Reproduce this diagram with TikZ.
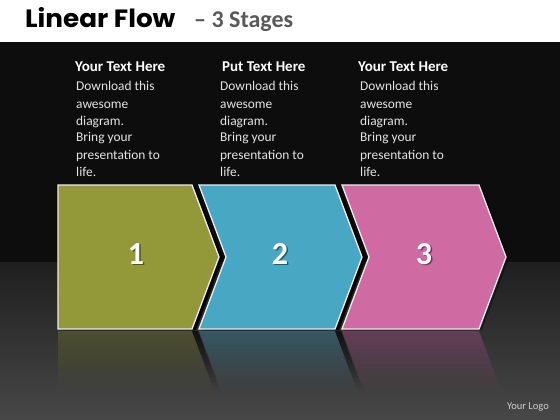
\documentclass[tikz,border=0pt]{standalone}
\usepackage{fontspec}
\setmainfont{Carlito}
\newfontfamily\titlefont{Poppins}[FakeStretch=1.05]
\usetikzlibrary{fadings}
\definecolor{stageA}{RGB}{147,153,56}
\definecolor{stageB}{RGB}{72,168,196}
\definecolor{stageC}{RGB}{207,106,162}
\definecolor{reflA}{RGB}{90,95,45}
\definecolor{reflB}{RGB}{60,110,130}
\definecolor{reflC}{RGB}{130,70,110}
\definecolor{bodytext}{RGB}{228,228,228}
\definecolor{subtitle}{RGB}{89,89,89}
\tikzfading[name=reffade, top color=transparent!35, bottom color=transparent!100]
\tikzset{
  stagebox/.style={draw=white!92!black, line width=1.3pt, line join=miter},
  shadowbox/.style={fill=black, opacity=0.9},
  reflbox/.style={path fading=reffade},
  headtext/.style={anchor=base west, inner sep=0pt, text=white, font=\bfseries\fontsize{15}{17}\selectfont},
  bodyline/.style={anchor=base west, inner sep=0pt, text=bodytext, font=\fontsize{13.4}{17}\selectfont},
  numtext/.style={inner sep=0pt, text=white, font=\bfseries\fontsize{32}{34}\selectfont},
  numshadow/.style={inner sep=0pt, text=black, opacity=0.45, font=\bfseries\fontsize{32}{34}\selectfont}
}
\begin{document}
\begin{tikzpicture}[x=1pt,y=-1pt]
\useasboundingbox (0,0) rectangle (560,420);
% background
\fill[white] (0,0) rectangle (560,42);
\fill[black!95] (0,42) rectangle (560,262);
\shade[top color=black!88, bottom color=black!72] (0,262) rectangle (560,420);
% reflections
\fill[reflA, reflbox] (58,331) -- (192,331) -- (214,390) -- (58,390) -- cycle;
\fill[reflB, reflbox] (199,331) -- (335,331) -- (357,390) -- (221,390) -- cycle;
\fill[reflC, reflbox] (342,331) -- (479,331) -- (501,390) -- (364,390) -- cycle;
\fill[black, reflbox] (192,331) -- (198,331) -- (220,390) -- (214,390) -- cycle;
\fill[black, reflbox] (335,331) -- (341,331) -- (363,390) -- (357,390) -- cycle;
% shadows
\fill[shadowbox] (61,186) -- (196,186) -- (223,258) -- (196,330) -- (61,330) -- cycle;
\fill[shadowbox] (202,186) -- (339,186) -- (366,258) -- (339,330) -- (202,330) -- (229,258) -- cycle;
\fill[shadowbox, opacity=0.35] (345,186) -- (482,186) -- (509,258) -- (482,330) -- (345,330) -- (372,258) -- cycle;
% stages
\filldraw[stagebox, fill=stageA] (58,185) -- (192,185) -- (219,257) -- (192,329) -- (58,329) -- cycle;
\filldraw[stagebox, fill=stageB] (199,185) -- (335,185) -- (362,257) -- (335,329) -- (199,329) -- (226,257) -- cycle;
\filldraw[stagebox, fill=stageC] (342,185) -- (479,185) -- (506,257) -- (479,329) -- (342,329) -- (369,257) -- cycle;
% numbers
\node[numshadow] (n1s) at (137.5,255.5) {1};
\node[numtext] (n1) at (136,254) {1};
\node[numshadow] (n2s) at (281.5,255.5) {2};
\node[numtext] (n2) at (280,254) {2};
\node[numshadow] (n3s) at (425.5,255.5) {3};
\node[numtext] (n3) at (424,254) {3};
% title
\node[anchor=base west, inner sep=0pt, font=\titlefont\bfseries\fontsize{25}{30}\selectfont] (title) at (25,27.5) {Linear Flow};
\node[anchor=base west, inner sep=0pt, text=subtitle, font=\bfseries\fontsize{24}{30}\selectfont] (subtitle) at (194,27.5) {– 3 Stages};
% headings
\node[headtext] (h1) at (75,72) {Your Text Here};
\node[headtext] (h2) at (222,72) {Put Text Here};
\node[headtext] (h3) at (358,72) {Your Text Here};
% body text
\foreach \c/\x in {1/76, 2/220, 3/360}{
  \foreach \t [count=\i] in {Download this, awesome, diagram., Bring your, presentation to, life.}{
    \node[bodyline] (b\c-\i) at (\x, 74+17*\i) {\t};
  }
}
% logo
\node[anchor=base east, inner sep=0pt, text=black!20, font=\fontsize{10.5}{12}\selectfont] (logo) at (549,409) {Your Logo};
\end{tikzpicture}
\end{document}
